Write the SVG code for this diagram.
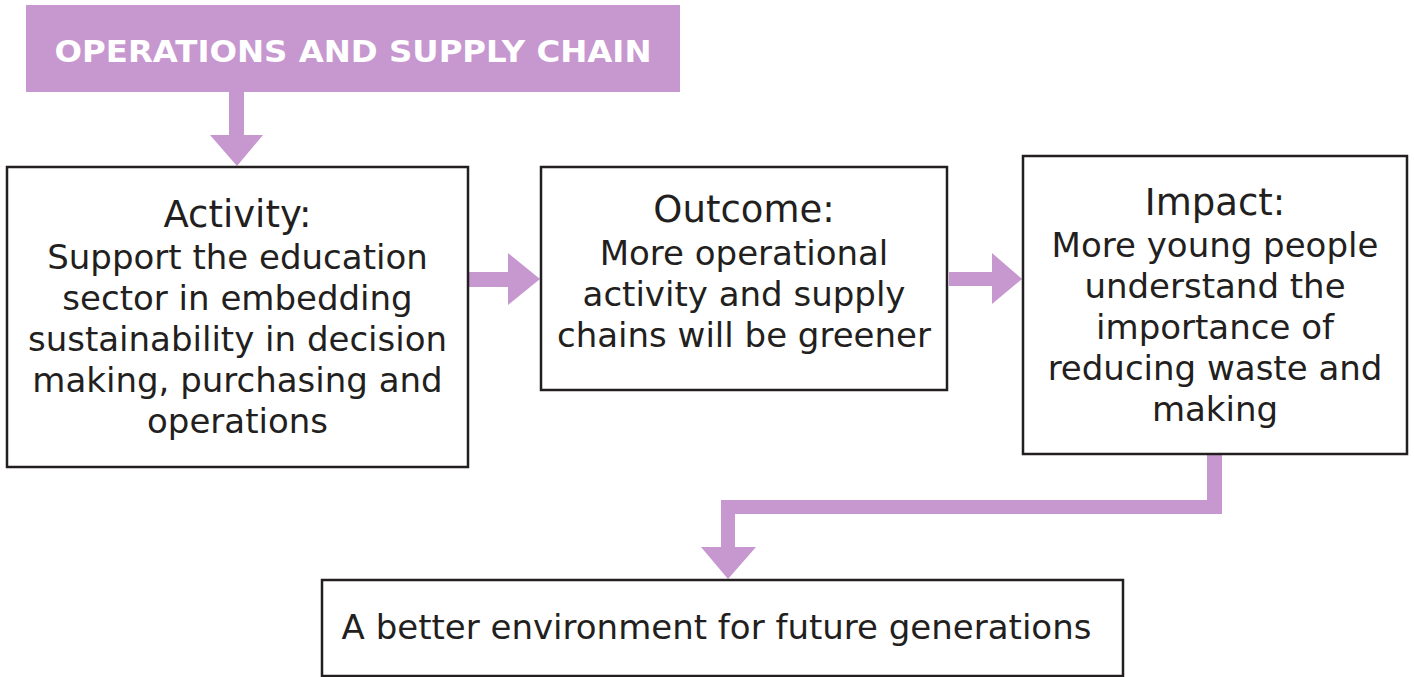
<svg xmlns="http://www.w3.org/2000/svg" width="1414" height="677" viewBox="0 0 1414 677">
<style>
.box{fill:#ffffff;stroke:#231f20;stroke-width:2.5}
.t{font-family:"DejaVu Sans","Liberation Sans",sans-serif;fill:#231f20;text-anchor:middle}
.h{font-size:37px}
.b{font-size:34px}
.conn{fill:#c797cf}
</style>
<rect width="1414" height="677" fill="#ffffff"/>
<g id="title">
<rect x="26" y="5" width="654" height="87" fill="#c797cf"/>
<text x="353" y="62" font-family="'DejaVu Sans','Liberation Sans',sans-serif" font-weight="bold" font-size="31" fill="#ffffff" text-anchor="middle" textLength="597" lengthAdjust="spacingAndGlyphs">OPERATIONS AND SUPPLY CHAIN</text>
</g>
<g id="connectors">
<polygon class="conn" points="229,92 244,92 244,135 263,135 237,166 210,135 229,135"/>
<polygon class="conn" points="469,272 508,272 508,253 540,279 508,305 508,287 469,287"/>
<polygon class="conn" points="949,272 992,272 992,253 1022,279 992,304 992,286 949,286"/>
<polygon class="conn" points="1207,455 1222,455 1222,514 735,514 735,547 756,547 728,579 701,547 721,547 721,500 1207,500"/>
</g>
<g id="activity">
<rect class="box" x="7" y="167" width="461" height="300"/>
<text class="t h" x="237.5" y="227">Activity:</text>
<text class="t b" x="237.5" y="269">Support the education</text>
<text class="t b" x="237.5" y="310">sector in embedding</text>
<text class="t b" x="237.5" y="351">sustainability in decision</text>
<text class="t b" x="237.5" y="392">making, purchasing and</text>
<text class="t b" x="237.5" y="433">operations</text>
</g>
<g id="outcome">
<rect class="box" x="541" y="167" width="406" height="223"/>
<text class="t h" x="744" y="222">Outcome:</text>
<text class="t b" x="744" y="265">More operational</text>
<text class="t b" x="744" y="306">activity and supply</text>
<text class="t b" x="744" y="347">chains will be greener</text>
</g>
<g id="impact">
<rect class="box" x="1023" y="156" width="384" height="298"/>
<text class="t h" x="1215" y="215">Impact:</text>
<text class="t b" x="1215" y="257">More young people</text>
<text class="t b" x="1215" y="298">understand the</text>
<text class="t b" x="1215" y="339">importance of</text>
<text class="t b" x="1215" y="380">reducing waste and</text>
<text class="t b" x="1215" y="421">making</text>
</g>
<g id="result">
<rect class="box" x="322" y="580" width="801" height="96"/>
<text class="t b" x="716.5" y="639">A better environment for future generations</text>
</g>
</svg>
